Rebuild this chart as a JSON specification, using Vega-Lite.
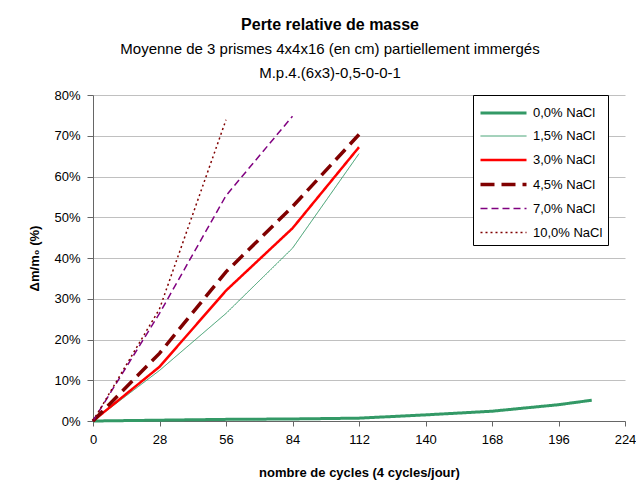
{
  "$schema": "https://vega.github.io/schema/vega-lite/v6.json",
  "width": 532,
  "height": 326,
  "autosize": "none",
  "padding": {"left": 93, "top": 95, "right": 11, "bottom": 69},
  "background": "white",
  "title": {
    "text": "Perte relative de masse",
    "subtitle": ["Moyenne de 3 prismes 4x4x16 (en cm) partiellement immergés", "M.p.4.(6x3)-0,5-0-0-1"],
    "anchor": "middle",
    "frame": "group",
    "dx": -29,
    "offset": 8,
    "font": "Liberation Sans",
    "fontSize": 16,
    "fontWeight": "bold",
    "color": "black",
    "subtitleFont": "Liberation Sans",
    "subtitleFontSize": 15,
    "subtitleColor": "black",
    "subtitlePadding": 9,
    "subtitleLineHeight": 24
  },
  "data": {
    "values": [
      {"series": "0,0% NaCl", "cycles": 0, "value": 0},
      {"series": "0,0% NaCl", "cycles": 28, "value": 0.2},
      {"series": "0,0% NaCl", "cycles": 56, "value": 0.4},
      {"series": "0,0% NaCl", "cycles": 84, "value": 0.5},
      {"series": "0,0% NaCl", "cycles": 112, "value": 0.7},
      {"series": "0,0% NaCl", "cycles": 140, "value": 1.5},
      {"series": "0,0% NaCl", "cycles": 168, "value": 2.4},
      {"series": "0,0% NaCl", "cycles": 196, "value": 4.0},
      {"series": "0,0% NaCl", "cycles": 210, "value": 5.1},
      {"series": "1,5% NaCl", "cycles": 0, "value": 0},
      {"series": "1,5% NaCl", "cycles": 28, "value": 12.4},
      {"series": "1,5% NaCl", "cycles": 56, "value": 26.4},
      {"series": "1,5% NaCl", "cycles": 84, "value": 42.4},
      {"series": "1,5% NaCl", "cycles": 112, "value": 65.6},
      {"series": "3,0% NaCl", "cycles": 0, "value": 0},
      {"series": "3,0% NaCl", "cycles": 28, "value": 13.3},
      {"series": "3,0% NaCl", "cycles": 56, "value": 32.0},
      {"series": "3,0% NaCl", "cycles": 84, "value": 47.3},
      {"series": "3,0% NaCl", "cycles": 112, "value": 67.2},
      {"series": "4,5% NaCl", "cycles": 0, "value": 0},
      {"series": "4,5% NaCl", "cycles": 28, "value": 16.6},
      {"series": "4,5% NaCl", "cycles": 56, "value": 36.6},
      {"series": "4,5% NaCl", "cycles": 84, "value": 52.6},
      {"series": "4,5% NaCl", "cycles": 112, "value": 70.3},
      {"series": "7,0% NaCl", "cycles": 0, "value": 0},
      {"series": "7,0% NaCl", "cycles": 28, "value": 26.4},
      {"series": "7,0% NaCl", "cycles": 56, "value": 55.3},
      {"series": "7,0% NaCl", "cycles": 84, "value": 74.8},
      {"series": "10,0% NaCl", "cycles": 0, "value": 0},
      {"series": "10,0% NaCl", "cycles": 28, "value": 27.5},
      {"series": "10,0% NaCl", "cycles": 56, "value": 73.9}
    ]
  },
  "mark": {"type": "line", "strokeCap": "butt"},
  "encoding": {
    "x": {
      "field": "cycles",
      "type": "quantitative",
      "scale": {"domain": [0, 224], "nice": false},
      "axis": {
        "values": [0, 28, 56, 84, 112, 140, 168, 196, 224],
        "title": "nombre de cycles (4 cycles/jour)",
        "grid": false,
        "domainColor": "#666666",
        "tickColor": "#666666",
        "tickSize": 5,
        "labelPadding": 7,
        "labelFont": "Liberation Sans",
        "labelFontSize": 13,
        "labelColor": "black",
        "titleFont": "Liberation Sans",
        "titleFontSize": 13,
        "titleFontWeight": "bold",
        "titleColor": "black",
        "titlePadding": 20,
        "labelFlush": false
      }
    },
    "y": {
      "field": "value",
      "type": "quantitative",
      "scale": {"domain": [0, 80], "nice": false},
      "axis": {
        "values": [0, 10, 20, 30, 40, 50, 60, 70, 80],
        "labelExpr": "datum.value + '%'",
        "title": "Δm/m₀ (%)",
        "grid": true,
        "gridColor": "#c0c0c0",
        "gridWidth": 1.2,
        "domainColor": "#666666",
        "tickColor": "#666666",
        "tickSize": 6,
        "labelPadding": 7,
        "labelFont": "Liberation Sans",
        "labelFontSize": 13,
        "labelColor": "black",
        "titleFont": "Liberation Sans",
        "titleFontSize": 13,
        "titleFontWeight": "bold",
        "titleColor": "black",
        "titlePadding": 12,
        "labelFlush": false
      }
    },
    "color": {
      "field": "series",
      "type": "nominal",
      "scale": {
        "domain": ["0,0% NaCl", "1,5% NaCl", "3,0% NaCl", "4,5% NaCl", "7,0% NaCl", "10,0% NaCl"],
        "range": ["#339966", "#339966", "#ff0000", "#800000", "#800080", "#800000"]
      },
      "legend": {"title": null}
    },
    "strokeDash": {
      "field": "series",
      "type": "nominal",
      "scale": {
        "domain": ["0,0% NaCl", "1,5% NaCl", "3,0% NaCl", "4,5% NaCl", "7,0% NaCl", "10,0% NaCl"],
        "range": [[1, 0], [1, 0], [1, 0], [14, 7], [7, 4], [2, 3]]
      },
      "legend": {"title": null}
    },
    "strokeWidth": {
      "field": "series",
      "type": "nominal",
      "scale": {
        "type": "ordinal",
        "domain": ["0,0% NaCl", "1,5% NaCl", "3,0% NaCl", "4,5% NaCl", "7,0% NaCl", "10,0% NaCl"],
        "range": [3, 1, 2.5, 3.5, 1.5, 1.5]
      },
      "legend": {"title": null}
    }
  },
  "config": {
    "view": {"stroke": null},
    "legend": {
      "orient": "none",
      "legendX": 380,
      "legendY": 0,
      "strokeColor": "black",
      "fillColor": "white",
      "padding": 5,
      "symbolType": "M-2,0H2",
      "symbolSize": 529,
      "symbolOffset": 12,
      "labelFont": "Liberation Sans",
      "labelFontSize": 13,
      "labelColor": "black",
      "labelOffset": 16,
      "rowPadding": 4
    }
  }
}
